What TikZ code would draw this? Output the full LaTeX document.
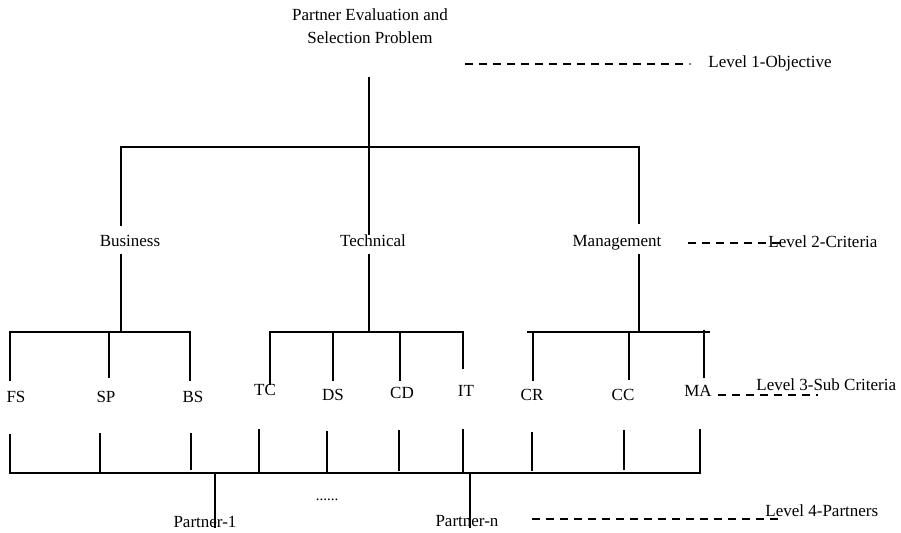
\documentclass[tikz,border=0pt]{standalone}
\usepackage{fontspec}
\setmainfont{Liberation Serif}
\begin{document}
\begin{tikzpicture}[x=0.5pt,y=-0.5pt,
  lbl/.style={inner sep=0pt, font=\fontsize{8.5}{11.5}\selectfont},
  ln/.style={line width=0.75pt, line cap=rect},
  dsh/.style={line width=1.1pt, dash pattern=on 4.2pt off 2.8pt}]
\useasboundingbox (0,0) rectangle (901,532);
% texts
\node[lbl, align=center] (title) at (370,26.5) {Partner Evaluation and\\Selection Problem};
\node[lbl, anchor=west] (lv1) at (708,63) {Level 1-Objective};
\node[lbl] (bus) at (130,241) {Business};
\node[lbl] (tec) at (373,241) {Technical};
\node[lbl] (man) at (617,243) {Management};
\node[lbl, anchor=west] (lv2) at (768,242) {Level 2-Criteria};
\node[lbl] (FS) at (16,397) {FS};
\node[lbl] (SP) at (106,397) {SP};
\node[lbl] (BS) at (193,397) {BS};
\node[lbl] (TC) at (265,390) {TC};
\node[lbl] (DS) at (333,395) {DS};
\node[lbl] (CD) at (402,393) {CD};
\node[lbl] (IT) at (466,391) {IT};
\node[lbl] (CR) at (532,395) {CR};
\node[lbl] (CC) at (623,395) {CC};
\node[lbl] (MA) at (698,391) {MA};
\node[lbl, anchor=west] (lv3) at (756,385) {Level 3-Sub Criteria};
\node[lbl, font=\fontsize{7.5}{9}\selectfont] (dots) at (327,500) {......};
\node[lbl] (p1) at (205,522) {Partner-1};
\node[lbl] (pn) at (467,521) {Partner-n};
\node[lbl, anchor=west] (lv4) at (765,511) {Level 4-Partners};
% level 1 -> level 2
\coordinate (t0) at (369,78);
\coordinate (t1) at (369,147);
\coordinate (bL) at (121,147);
\coordinate (bR) at (639,147);
\draw[ln] (t0) -- (t1);
\draw[ln] (bL) -- (bR);
% vertical segments: name / x / y1 / y2
\foreach \n/\x/\ya/\yb in {
  ua/121/147/225, ub/121/255/332,
  va/369/147/234, vb/369/255/332,
  wa/639/147/223, wb/639/255/332,
  fs/10/332/380, sp/109/332/377, bs/190/332/380,
  tc/270/332/384, ds/333/332/380, cd/400/332/380, it/463/332/368,
  cr/533/332/380, cc/629/332/379, ma/704/331/377,
  gfs/10/435/473, gsp/100/434/473, gbs/191/434/469, gtc/259/430/473,
  gds/327/432/472, gcd/399/431/470, git/463/430/473, gcr/532/433/470,
  gcc/624/431/469, gma/700/430/473,
  pa/215/473/527, pb/470/473/527}{
  \coordinate (\n1) at (\x,\ya);
  \coordinate (\n2) at (\x,\yb);
  \draw[ln] (\n1) -- (\n2);
}
% horizontal bars
\coordinate (h1a) at (10,332);  \coordinate (h1b) at (190,332);
\coordinate (h2a) at (270,332); \coordinate (h2b) at (463,332);
\coordinate (h3a) at (528,332); \coordinate (h3b) at (709,332);
\coordinate (h4a) at (10,473);  \coordinate (h4b) at (700,473);
\draw[ln] (h1a) -- (h1b);
\draw[ln] (h2a) -- (h2b);
\draw[ln] (h3a) -- (h3b);
\draw[ln] (h4a) -- (h4b);
% dashed level markers
\coordinate (d1a) at (465,64);  \coordinate (d1b) at (683,64);
\coordinate (d1c) at (690,64);
\coordinate (d2a) at (688,243); \coordinate (d2b) at (782,243);
\coordinate (d3a) at (718,395); \coordinate (d3b) at (818,395);
\coordinate (d4a) at (532,519); \coordinate (d4b) at (782,519);
\draw[dsh] (d1a) -- (d1b);
\fill (d1c) circle (0.8);
\draw[dsh] (d2a) -- (d2b);
\draw[dsh] (d3a) -- (d3b);
\draw[dsh] (d4a) -- (d4b);
\end{tikzpicture}
\end{document}
